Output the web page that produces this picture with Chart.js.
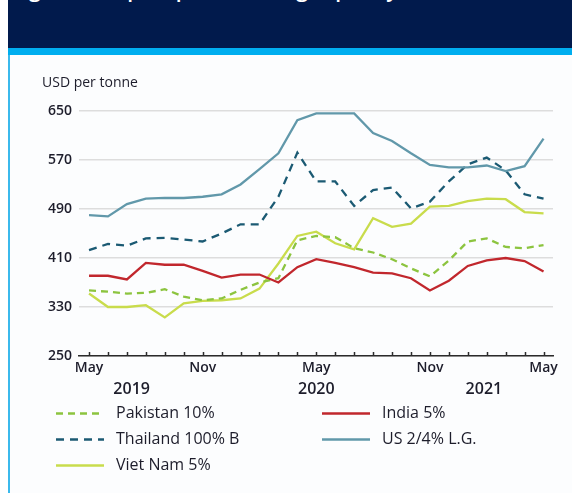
<!DOCTYPE html>
<html><head><meta charset="utf-8">
<script src="https://cdn.jsdelivr.net/npm/chart.js@4.4.1/dist/chart.umd.min.js"></script>
<style>
html,body{margin:0;padding:0;width:572px;height:493px;overflow:hidden;background:#ffffff;}
#hdr{position:absolute;left:8px;top:0;width:564px;height:48px;background:#011a4c;overflow:hidden;}
#hdr span{position:absolute;left:4px;top:-25px;color:#ffffff;font:600 21px "Open Sans";white-space:nowrap;}
#stripe{position:absolute;left:8px;top:48px;width:564px;height:7px;background:#00aeef;}
#panel{position:absolute;left:8px;top:55px;width:564px;height:438px;background:#fcfdfe;border-left:2px solid #3bb9ec;box-sizing:border-box;}
#wrap{position:absolute;left:0;top:0;width:572px;height:493px;}
</style></head>
<body>
<div id="hdr"><span>Figure 2. Export prices for high-quality rice</span></div>
<div id="stripe"></div>
<div id="panel"></div>
<div id="wrap"><canvas id="c" width="572" height="493"></canvas></div>
<script>
// ---- data ----
const months = ['May 2019','Jun 2019','Jul 2019','Aug 2019','Sep 2019','Oct 2019','Nov 2019','Dec 2019',
  'Jan 2020','Feb 2020','Mar 2020','Apr 2020','May 2020','Jun 2020','Jul 2020','Aug 2020','Sep 2020',
  'Oct 2020','Nov 2020','Dec 2020','Jan 2021','Feb 2021','Mar 2021','Apr 2021','May 2021'];
const pakistan = [357,355,352,353,359,347,341,344,358,370,377,439,446,444,426,419,408,393,380,406,437,442,428,426,431];
const thailand = [423,433,430,442,443,440,437,450,465,465,510,582,535,535,495,521,525,491,502,535,563,574,553,514,507];
const vietnam  = [352,330,330,333,313,336,340,341,344,360,401,446,453,434,424,475,461,466,494,495,503,507,506,485,483];
const india    = [381,381,375,402,399,399,389,378,383,383,370,395,408,402,395,386,385,377,357,373,397,406,410,405,388];
const us       = [480,478,498,507,508,508,510,514,530,555,581,635,646,646,646,614,601,581,562,558,558,561,552,560,605];
const monthTickPos = [0,6,12,18,24];
const monthTickLabels = ['May','Nov','May','Nov','May'];
const yearTickPos = [2.25,12,20.85];
const yearTickLabels = ['2019','2020','2021'];
const yTicks = [250,330,410,490,570,650];
const yTitle = 'USD per tonne';

const FONT = '"Open Sans", "Noto Sans", sans-serif';
const TXT = '#1d1d2b';
const pts = arr => arr.map((v,i)=>({x:i,y:v}));

const datasets = [
  {label:'US 2/4% L.G.', data:pts(us), borderColor:'#6198aa', borderDash:[]},
  {label:'Thailand 100% B', data:pts(thailand), borderColor:'#1b5a73', borderDash:[8,6]},
  {label:'India 5%', data:pts(india), borderColor:'#c1272d', borderDash:[]},
  {label:'Pakistan 10%', data:pts(pakistan), borderColor:'#8cc43f', borderDash:[7,5]},
  {label:'Viet Nam 5%', data:pts(vietnam), borderColor:'#c9dc4c', borderDash:[]}
];

const tickMarks = {
  id:'tickMarks',
  afterDraw(chart){
    const xs = chart.scales.x, ctx = chart.ctx, b = chart.chartArea.bottom;
    ctx.save(); ctx.strokeStyle = '#2b2b2b'; ctx.lineWidth = 1.5;
    months.forEach((m,i)=>{
      const px = Math.round(xs.getPixelForValue(i))+0.5;
      ctx.beginPath(); ctx.moveTo(px,b); ctx.lineTo(px,b-4); ctx.stroke();
    });
    ctx.restore();
  }
};

const yTitlePlugin = {
  id:'yTitle',
  afterDraw(chart){
    const ctx = chart.ctx;
    ctx.save(); ctx.fillStyle = TXT; ctx.font = '14px ' + FONT;
    ctx.textBaseline = 'middle'; ctx.textAlign = 'left';
    ctx.fillText(yTitle, 42, 83);
    ctx.restore();
  }
};

const legendLayout = [
  {label:'Pakistan 10%', x:56, y:413},
  {label:'Thailand 100% B', x:56, y:439},
  {label:'Viet Nam 5%', x:56, y:465},
  {label:'India 5%', x:322, y:413},
  {label:'US 2/4% L.G.', x:322, y:439}
];
const legendPlugin = {
  id:'customLegend',
  afterDraw(chart){
    const ctx = chart.ctx;
    ctx.save();
    legendLayout.forEach(item=>{
      const ds = chart.data.datasets.find(d=>d.label===item.label);
      ctx.strokeStyle = ds.borderColor; ctx.lineWidth = 2.4;
      ctx.setLineDash(ds.borderDash || []);
      ctx.beginPath(); ctx.moveTo(item.x, item.y+0.5); ctx.lineTo(item.x+48, item.y+0.5); ctx.stroke();
      ctx.setLineDash([]);
      ctx.fillStyle = TXT; ctx.font = '16px ' + FONT;
      ctx.textBaseline = 'middle'; ctx.textAlign = 'left';
      ctx.fillText(item.label, item.x+60, item.y);
    });
    ctx.restore();
  }
};

function build(){
  new Chart(document.getElementById('c'), {
    type:'line',
    data:{datasets},
    options:{
      responsive:false, animation:false, devicePixelRatio:1,
      layout:{padding:{left:0,right:19,top:111,bottom:93}},
      plugins:{legend:{display:false}, tooltip:{enabled:false}},
      elements:{point:{radius:0}, line:{tension:0, borderWidth:2.3, fill:false}},
      scales:{
        x:{type:'linear', position:'bottom', weight:0, min:-0.53, max:24.5,
          afterBuildTicks:s=>{ s.ticks = monthTickPos.map(v=>({value:v})); },
          ticks:{autoSkip:false, maxRotation:0, padding:4, color:TXT,
            font:{family:FONT, size:14, weight:'600'},
            callback:v=>monthTickLabels[monthTickPos.indexOf(v)]},
          grid:{display:false, drawTicks:false},
          border:{display:true, color:'#2b2b2b', width:1.5},
          afterFit:s=>{ s.height = 22; }},
        x2:{type:'linear', position:'bottom', weight:1, min:-0.53, max:24.5,
          afterBuildTicks:s=>{ s.ticks = yearTickPos.map(v=>({value:v})); },
          ticks:{autoSkip:false, maxRotation:0, padding:2, color:TXT,
            font:{family:FONT, size:16, weight:'600'},
            callback:v=>yearTickLabels[yearTickPos.indexOf(v)]},
          grid:{display:false, drawTicks:false},
          border:{display:false},
          afterFit:s=>{ s.height = 22; }},
        y:{min:250, max:650,
          afterBuildTicks:s=>{ s.ticks = yTicks.map(v=>({value:v})); },
          ticks:{padding:7, color:TXT, font:{family:FONT, size:14, weight:'600'}},
          grid:{color:'#dddddd', lineWidth:1.5, drawTicks:false},
          border:{display:false},
          afterFit:s=>{ s.width = 79; }}
      }
    },
    plugins:[tickMarks, yTitlePlugin, legendPlugin]
  });
}
if (document.fonts && document.fonts.load) {
  Promise.all([document.fonts.load('16px "Open Sans"'), document.fonts.load('600 16px "Open Sans"')]).then(build, build);
} else build();
</script>
</body></html>
